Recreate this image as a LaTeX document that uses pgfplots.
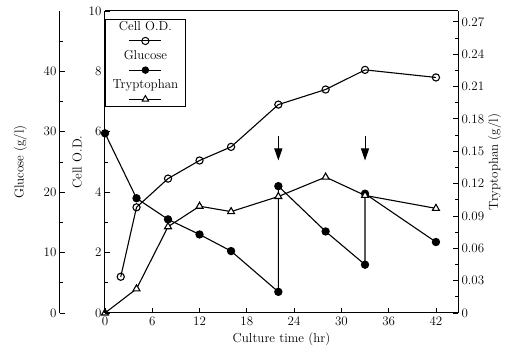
\documentclass[border=0pt]{standalone}
\usepackage{pgfplots}
\pgfplotsset{compat=1.18}
\usetikzlibrary{arrows.meta}

\pgfplotsset{
  common/.style={
    scale only axis, width=353pt, height=302pt,
    xmin=0, xmax=44.8,
    axis line style={black, line width=1pt},
    tick style={black, line width=0.8pt},
    major tick length=5pt, minor tick length=3pt,
    tick align=inside,
    /pgf/number format/assume math mode=true,
    tick label style={font=\fontsize{13}{13}\selectfont},
    label style={font=\fontsize{13}{13}\selectfont},
    clip=false,
  },
}

\begin{document}
\begin{tikzpicture}[font=\fontsize{13}{15}\selectfont]
\useasboundingbox (-105pt,-39pt) rectangle (404pt,313pt);

% ---- Glucose display axis (shifted left)
\begin{axis}[common, xshift=-45pt,
  ymin=0, ymax=50,
  axis y line*=left, axis x line=none,
  ytick={0,10,20,30,40}, minor ytick={5,15,25,35,45},
  ylabel={Glucose (g/l)},
  ylabel shift=10pt,
]
\addplot[draw=none] coordinates {(0,0)};
\end{axis}

% ---- Glucose data (hidden axis, same geometry as main)
\begin{axis}[common, ymin=0, ymax=50, hide axis]
\addplot[black, line width=1.1pt, mark=*, mark size=3.6pt, mark options={solid, fill=black}]
  coordinates {(0,29.75) (4,19) (8,15.5) (12,13) (16,10.25) (22,3.5) (22,21) (28,13.5) (33,8) (33,19.75) (42,11.75)};
\end{axis}

% ---- Tryptophan axis (right)
\begin{axis}[common, ymin=0, ymax=0.28,
  axis y line*=right, axis x line=none,
  ytick={0,0.03,0.06,0.09,0.12,0.15,0.18,0.21,0.24,0.27},
  yticklabels={0,0.03,0.06,0.09,0.12,0.15,0.18,0.21,0.24,0.27},
  minor ytick={0.015,0.045,0.075,0.105,0.135,0.165,0.195,0.225,0.255},
  ylabel={Tryptophan (g/l)},
  ylabel shift=-3pt,
]
\addplot[black, line width=1.1pt, mark=triangle*, mark size=4pt, mark options={solid, fill=white}]
  coordinates {(0,0) (4,0.0224) (8,0.080) (12,0.099) (16,0.094) (22,0.108) (28,0.126) (33,0.109) (42,0.097)};
\end{axis}

% ---- Main axis: Cell O.D.
\begin{axis}[common, ymin=0, ymax=10,
  axis x line*=bottom, axis y line*=left,
  xtick={0,6,12,18,24,30,36,42},
  ytick={0,2,4,6,8,10}, minor ytick={1,3,5,7,9},
  xlabel={Culture time (hr)},
  ylabel={Cell O.D.},
  legend style={at={(0,1)}, yshift=-8pt, anchor=north west, draw=black, line width=0.8pt,
    inner xsep=0pt, inner ysep=0pt, column sep=0pt, row sep=0pt,
    nodes={text width=76pt, align=center, text depth=16pt, inner sep=2pt, font=\fontsize{13}{13}\selectfont}},
  legend image code/.code={\draw[overlay, mark repeat=2, mark phase=2, line width=1pt, #1]
     plot coordinates {(24pt,-7pt) (40pt,-7pt) (56pt,-7pt)};},
]
\draw[black, line width=1pt] (rel axis cs:0,1) -- (rel axis cs:1,1);
\addplot[black, line width=1.1pt, mark=o, mark size=3.6pt, mark options={solid, fill=white}]
  coordinates {(2,1.2) (4,3.5) (8,4.45) (12,5.05) (16,5.5) (22,6.9) (28,7.4) (33,8.05) (42,7.8)};
\addlegendentry{Cell O.D.}
\addlegendimage{black, line width=1.1pt, mark=*, mark size=3.2pt, mark options={solid, fill=black}}
\addlegendentry{Glucose}
\addlegendimage{black, line width=1.1pt, mark=triangle*, mark size=3.6pt, mark options={solid, fill=white}}
\addlegendentry{Tryptophan}
\draw[line width=1pt, -{Triangle[length=12pt, width=8pt]}] (axis cs:22,5.85) -- (axis cs:22,5.05);
\draw[line width=1pt, -{Triangle[length=12pt, width=8pt]}] (axis cs:33,5.85) -- (axis cs:33,5.05);
\end{axis}
\end{tikzpicture}
\end{document}
